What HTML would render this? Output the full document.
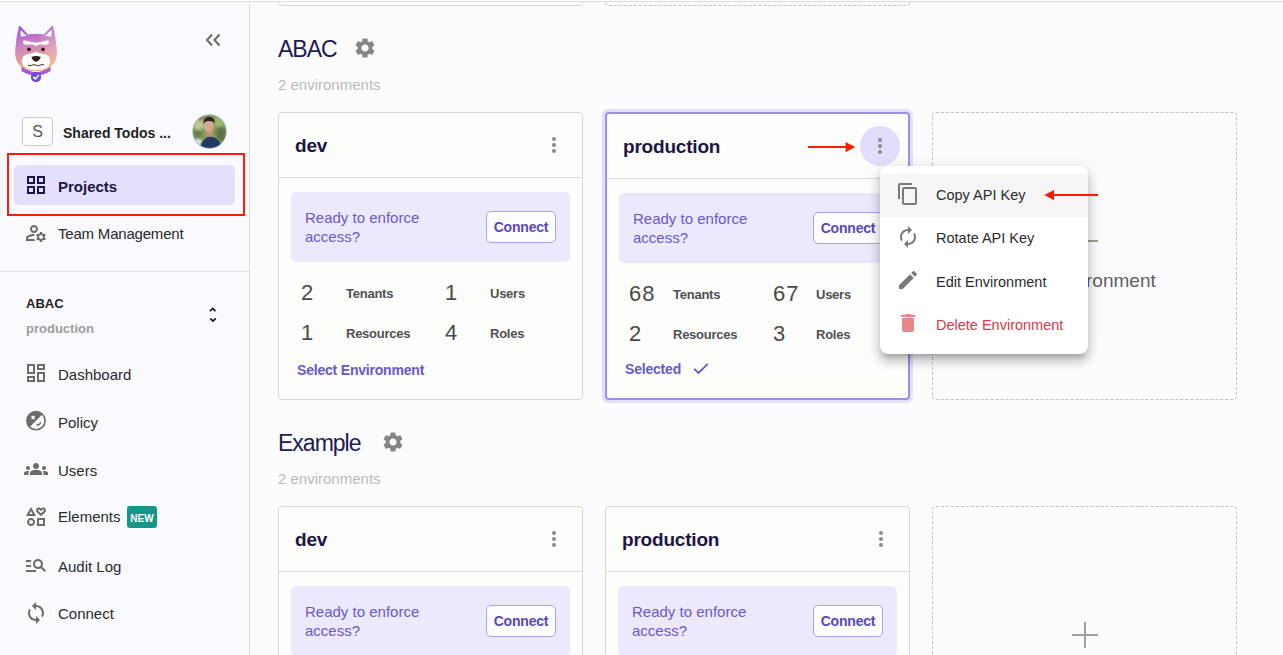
<!DOCTYPE html>
<html><head><meta charset="utf-8">
<style>
*{box-sizing:border-box;margin:0;padding:0}
html,body{width:1283px;height:655px;overflow:hidden}
body{position:relative;background:#fcfcfe;font-family:"Liberation Sans",sans-serif;color:#2b2b2b}
.a{position:absolute}
.t{position:absolute;white-space:nowrap;line-height:1}
#topline{left:0;top:1px;width:1283px;height:1px;background:#dcdcdd;z-index:5}
#top0{left:0;top:0;width:1283px;height:1px;background:#fff;z-index:5}
#side{left:0;top:2px;width:250px;height:653px;background:#f9f9fe;border-right:1px solid #dcdcda}
.sep{left:0;top:271px;width:249px;height:1px;background:#e0e0e0}
.nav{font-size:15px;color:#2b2b2b}
.ico{position:absolute}
/* cards */
.card{position:absolute;width:305px;height:288px;background:#fdfdfb;border:1px solid #d9d7d1;border-radius:4px}
.card.sel{border:2px solid #9c8fe9;box-shadow:0 0 0 3px #e4defa}
.card .hsep{position:absolute;left:0;right:0;top:64px;height:1px;background:#dcdad4}
.card .name{position:absolute;left:16px;top:23px;font-size:19px;font-weight:bold;color:#1d1545;line-height:1;white-space:nowrap;letter-spacing:-0.2px}
.card .dots{position:absolute;left:273px;top:24px;width:4px;height:16px}
.card .dots i{position:absolute;left:0;width:4px;height:4px;border-radius:50%;background:#8a8a87}
.banner{position:absolute;left:12px;top:79px;width:279px;height:70px;background:#ece8fd;border-radius:5px}
.banner .bt{position:absolute;left:14px;top:16px;font-size:15px;line-height:19px;color:#6a58cd;white-space:nowrap}
.btn{position:absolute;left:195px;top:19px;width:70px;height:32px;border:1px solid #aa9ff0;background:#fdfcff;border-radius:5px;font-size:14px;font-weight:bold;color:#5a48b8;text-align:center;line-height:30px;letter-spacing:-0.2px}
.sel .banner{width:278px}
.sel .btn{left:194px}
.num{position:absolute;font-size:22px;color:#4a4a4a;line-height:1;font-weight:normal;letter-spacing:1px}
.lbl{position:absolute;font-size:13px;letter-spacing:-0.25px;color:#505050;line-height:1;font-weight:bold;white-space:nowrap}
.selenv{position:absolute;left:18px;top:250px;font-size:14px;letter-spacing:-0.2px;font-weight:bold;color:#6a58cd;line-height:1;white-space:nowrap}
.dash{position:absolute;width:305px;height:288px;border:1px dashed #c4c2bc;border-radius:4px;background:transparent}
.plus{position:absolute;left:139px;top:115px;width:26px;height:26px}
.plus:before{content:"";position:absolute;left:0;top:12px;width:26px;height:2px;background:#a29f9a}
.plus:after{content:"";position:absolute;left:12px;top:0;width:2px;height:26px;background:#a29f9a}
.h2{position:absolute;left:278px;font-size:23px;letter-spacing:-1px;color:#221a52;line-height:1;white-space:nowrap}
.sub{position:absolute;left:278px;font-size:15px;color:#bababa;line-height:1;white-space:nowrap}
</style></head><body>
<div id="top0" class="a"></div><div id="topline" class="a"></div>
<div id="side" class="a"></div>
<div class="a sep"></div>

<!-- SIDEBAR -->
<svg class="a" style="left:12px;top:24px" width="48" height="60" viewBox="0 0 48 60">
  <defs>
    <linearGradient id="hg" x1="0.2" y1="0" x2="0.45" y2="1">
      <stop offset="0" stop-color="#a052dc"/>
      <stop offset="0.5" stop-color="#d48cbc"/>
      <stop offset="1" stop-color="#f7a96a"/>
    </linearGradient>
    <linearGradient id="hl" x1="0" y1="0" x2="1" y2="1">
      <stop offset="0" stop-color="#fff" stop-opacity="0"/>
      <stop offset="1" stop-color="#fff" stop-opacity="0.25"/>
    </linearGradient>
  </defs>
  <path d="M9.5 42 Q24 54 38.5 42 L38.5 47 Q24 56 9.5 47 Z" fill="#a458d9"/>
  <path d="M6.9 2.3 Q7.6 1.6 8.4 2.3 L16 10.5 Q24 9 32 10.5 L39.6 2.3 Q40.5 1.6 41 2.6 Q44 14 44.8 26 Q46 40 34 45.5 Q24 48.5 14 45.5 Q2 40 3.2 26 Q4 14 6.9 2.3 Z" fill="url(#hg)"/>
  <path d="M26 10.2 Q32 10.5 40 2.5 Q44 14 44.8 26 Q46 40 34 45.5 Q36 30 26 10.2 Z" fill="url(#hl)"/>
  <path d="M8.6 6 L14.6 12 L8.6 12.6 Z" fill="#fff"/>
  <path d="M39.6 5.6 L33 12 L39.4 12.6 Z" fill="#fff"/>
  <path d="M11 18 Q11 16.2 13 16.6 Q19 18 23 18.6 Q24 18.8 25 18.6 Q29 18 35 16.6 Q37 16.2 37 18 Q37 20.8 33.5 20.8 L28 20.6 Q25 20.8 24 22.4 Q23 20.8 20 20.6 L14.5 20.8 Q11 20.8 11 18 Z" fill="#fff"/>
  <circle cx="17" cy="25.3" r="1.9" fill="#2e201e"/>
  <circle cx="31" cy="25.3" r="1.9" fill="#2e201e"/>
  <path d="M9.8 38 Q9.8 31 16 30 Q21 29.5 24 27.8 Q27 29.5 32 30 Q38.2 31 38.2 38 Q37 46 24 46.2 Q11 46 9.8 38 Z" fill="#fff"/>
  <path d="M19.4 33 Q24 31.2 28.8 33 Q27.5 37 24 37.8 Q20.5 37 19.4 33 Z" fill="#2e201e"/>
  <path d="M16 40.8 Q18 42.5 20 41.2 Q22 40 24 41.2 Q26 42.5 28 41.2 Q30 40 32 40.8" stroke="#2e201e" stroke-width="0.9" fill="none"/>
  <circle cx="24" cy="53.1" r="5.1" fill="#7148d6"/>
  <path d="M21.6 53.2 L23.3 54.9 L26.5 51.6" stroke="#fff" stroke-width="1.5" fill="none" stroke-linecap="round"/>
</svg>
<svg class="a" style="left:204px;top:32px" width="18" height="16" viewBox="0 0 18 16">
  <path d="M8 2.5 L3 8 L8 13.5 M15.5 2.5 L10.5 8 L15.5 13.5" stroke="#6b6b68" stroke-width="2" fill="none"/>
</svg>

<div class="a" style="left:22px;top:117px;width:31px;height:29px;border:1px solid #cbc9c3;border-radius:4px;background:#fdfdfb;font-size:16px;color:#555;text-align:center;line-height:28px">S</div>
<div class="t" style="left:63px;top:126px;font-size:14px;font-weight:bold;color:#1f1f1f">Shared Todos ...</div>
<svg class="a" style="left:192px;top:114px" width="35" height="35" viewBox="0 0 35 35">
  <defs><clipPath id="cc"><circle cx="17.5" cy="17.5" r="16.8"/></clipPath>
  <filter id="bl"><feGaussianBlur stdDeviation="1.2"/></filter></defs>
  <g clip-path="url(#cc)">
    <rect width="35" height="35" fill="#7f9a5c"/>
    <g filter="url(#bl)">
      <ellipse cx="7" cy="9" rx="6" ry="7" fill="#b4c98a"/>
      <ellipse cx="27" cy="8" rx="6" ry="5" fill="#9bb56e"/>
      <ellipse cx="29" cy="20" rx="5" ry="7" fill="#5d7444"/>
      <ellipse cx="6" cy="20" rx="4" ry="4" fill="#6a7d50"/>
      <ellipse cx="9" cy="4" rx="4" ry="3" fill="#a38152"/>
      <ellipse cx="6" cy="28" rx="4" ry="3" fill="#d9e2dc"/>
    </g>
    <path d="M14 16 L20.5 16 L21 23 L14 23 Z" fill="#c08f75"/>
    <path d="M8.5 35 Q9 27 13 25 Q15.5 22 17.5 23 Q20 22 23 24 Q28.5 26 29.5 35 Z" fill="#223a63"/>
    <ellipse cx="16.8" cy="12.3" rx="5" ry="6" fill="#d5a88e"/>
    <path d="M11.2 11 Q11 3 17 2.8 Q23.5 3 22.8 10.5 Q22 7 19 7.2 Q15 6.5 12.5 8.5 Q11.8 9.5 11.2 11 Z" fill="#2f2424"/>
  </g>
  <circle cx="17.5" cy="17.5" r="16.8" fill="none" stroke="#8fb5c6" stroke-width="0.6"/>
</svg>

<div class="a" style="left:7px;top:153px;width:238px;height:63px;border:2px solid #f81f06"></div>
<div class="a" style="left:14px;top:165px;width:221px;height:40px;background:#e4dffa;border-radius:5px"></div>
<svg class="a" style="left:24px;top:173px" width="24" height="24" viewBox="0 0 24 24"><path fill="#1d1545" d="M3 3v8h8V3H3zm6 6H5V5h4v4zm-6 4v8h8v-8H3zm6 6H5v-4h4v4zm4-16v8h8V3h-8zm6 6h-4V5h4v4zm-6 4v8h8v-8h-8zm6 6h-4v-4h4v4z"/></svg>
<div class="t" style="left:58px;top:179px;font-size:15px;font-weight:bold;color:#1d1545">Projects</div>

<svg class="a" style="left:24px;top:221px" width="24" height="24" viewBox="0 0 24 24"><path fill="#6b6b68" d="M4 18v-.65c0-.34.16-.66.41-.81C6.1 15.53 8.03 15 10 15c.03 0 .05 0 .08.01.1-.7.3-1.37.59-1.98-.22-.02-.44-.03-.67-.03-2.42 0-4.68.67-6.61 1.82-.88.52-1.39 1.5-1.39 2.53V20h9.26c-.42-.6-.75-1.28-.97-2H4zM10 12c2.21 0 4-1.79 4-4s-1.79-4-4-4-4 1.79-4 4 1.79 4 4 4zm0-6c1.1 0 2 .9 2 2s-.9 2-2 2-2-.9-2-2 .9-2 2-2zM20.75 16c0-.22-.03-.42-.06-.63l1.14-1.01-1-1.73-1.45.49c-.32-.27-.68-.48-1.08-.63L18 11h-2l-.3 1.49c-.4.15-.76.36-1.08.63l-1.45-.49-1 1.730 1.14 1.01c-.03.21-.06.41-.06.63s.03.42.06.63l-1.14 1.01 1 1.73 1.45-.49c.32.27.68.48 1.08.63L16 21h2l.3-1.49c.4-.15.76-.36 1.08-.63l1.45.49 1-1.73-1.14-1.01c.03-.21.06-.41.06-.63zM17 18c-1.1 0-2-.9-2-2s.9-2 2-2 2 .9 2 2-.9 2-2 2z"/></svg>
<div class="t nav" style="left:58px;top:226px;letter-spacing:-0.2px">Team Management</div>

<div class="t" style="left:26px;top:297px;font-size:13px;letter-spacing:0px;font-weight:bold;color:#1f1f1f">ABAC</div>
<div class="t" style="left:26px;top:322px;font-size:13px;font-weight:bold;color:#9d9d9d">production</div>
<svg class="a" style="left:206px;top:305px" width="14" height="20" viewBox="0 0 14 20">
  <path d="M3.9 6.1 L6.7 3.4 L9.5 6.1 M4.2 13.4 L7 16.1 L9.8 13.4" stroke="#1d1545" stroke-width="1.8" fill="none"/>
</svg>

<svg class="a" style="left:24px;top:361px" width="24" height="24" viewBox="0 0 24 24"><path fill="#6b6b68" d="M19 5v2h-4V5h4M9 5v6H5V5h4m10 8v6h-4v-6h4M9 17v2H5v-2h4M21 3h-8v6h8V3zM11 3H3v10h8V3zm10 8h-8v10h8V11zm-10 4H3v6h8v-6z"/></svg>
<div class="t nav" style="left:58px;top:367px">Dashboard</div>

<svg class="a" style="left:24px;top:409px" width="24" height="24" viewBox="0 0 24 24">
  <defs><clipPath id="pc"><circle cx="12" cy="11.7" r="9"/></clipPath></defs>
  <path d="M3 2.7 L21 2.7 L3 20.7 Z" fill="#6b6b68" clip-path="url(#pc)"/>
  <circle cx="12" cy="11.7" r="9.1" fill="none" stroke="#6b6b68" stroke-width="1.6"/>
  <path d="M7.6 7 L10.6 10 M10.6 7 L7.6 10" stroke="#fff" stroke-width="1.5"/>
  <path d="M12.6 15 L14.2 16.4 L17 13.4" stroke="#6b6b68" stroke-width="1.4" fill="none"/>
</svg>
<div class="t nav" style="left:58px;top:415px">Policy</div>

<svg class="a" style="left:24px;top:457px" width="24" height="24" viewBox="0 0 24 24"><path fill="#6b6b68" d="M12 12.75c1.63 0 3.07.39 4.24.9 1.08.48 1.76 1.560 1.76 2.73V18H6v-1.61c0-1.18.68-2.26 1.76-2.73 1.17-.52 2.61-.91 4.240-.91zM4 13c1.1 0 2-.9 2-2s-.9-2-2-2-2 .9-2 2 .9 2 2 2zm1.13 1.1c-.37-.06-.74-.1-1.13-.1-.99 0-1.93.21-2.78.58C.48 14.9 0 15.62 0 16.43V18h4.5v-1.61c0-.83.23-1.61.63-2.29zM20 13c1.1 0 2-.9 2-2s-.9-2-2-2-2 .9-2 2 .9 2 2 2zm4 3.43c0-.81-.48-1.53-1.22-1.85-.85-.37-1.79-.58-2.78-.58-.39 0-.76.04-1.13.1.4.68.63 1.46.63 2.29V18H24v-1.57zM12 6c1.66 0 3 1.34 3 3s-1.34 3-3 3-3-1.34-3-3 1.34-3 3-3z"/></svg>
<div class="t nav" style="left:58px;top:463px">Users</div>

<svg class="a" style="left:24px;top:505px" width="24" height="24" viewBox="0 0 24 24"><path fill="#6b6b68" d="M7.02 13c-2.21 0-4 1.79-4 4s1.79 4 4 4 4-1.79 4-4-1.79-4-4-4zm0 6c-1.1 0-2-.9-2-2s.9-2 2-2 2 .9 2 2-.9 2-2 2zM13 13v8h8v-8h-8zm6 6h-4v-4h4v4zM7 2l-5 9h10L7 2zm0 4.12L8.6 9H5.4L7 6.12zM19.25 2.5c-1.06 0-1.810.56-2.25 1.17-.44-.61-1.19-1.17-2.25-1.17C13.19 2.5 12 3.780 12 5.25c0 2 2.42 3.42 5 5.75 2.58-2.33 5-3.75 5-5.750 0-1.47-1.19-2.75-2.75-2.75zM17 8.35c-1.45-1.22-3-2.4-3-3.1 0-.43.35-.75.75-.75.31 0 .52.17.73.37L17 6.27l1.52-1.4c.21-.2.42-.37.73-.37.4 0 .75.32.75.75 0 .7-1.55 1.88-3 3.1z"/></svg>
<div class="t nav" style="left:58px;top:509px">Elements</div>
<div class="a" style="left:127px;top:506px;width:30px;height:22px;background:#14968a;border-radius:3px;color:#fff;font-size:10px;font-weight:bold;text-align:center;line-height:26px">NEW</div>

<svg class="a" style="left:24px;top:553px" width="24" height="24" viewBox="0 0 24 24"><path fill="#6b6b68" d="M7 9H2V7h5v2zm0 3H2v2h5v-2zm13.59 7l-3.83-3.83c-.8.52-1.74.83-2.76.83-2.76 0-5-2.24-5-5s2.24-5 5-5 5 2.24 5 5c0 1.02-.31 1.960-.83 2.75L22 17.59 20.59 19zM17 11c0-1.65-1.35-3-3-3s-3 1.35-3 3 1.35 3 3 3 3-1.35 3-3zM2 19h10v-2H2v2z"/></svg>
<div class="t nav" style="left:58px;top:559px">Audit Log</div>

<svg class="a" style="left:24px;top:601px" width="24" height="24" viewBox="0 0 24 24"><path fill="#6b6b68" d="M12 4V1L8 5l4 4V6c3.31 0 6 2.69 6 6 0 1.01-.25 1.97-.7 2.8l1.46 1.46C19.54 15.03 20 13.57 20 12c0-4.42-3.58-8-8-8zm0 14c-3.31 0-6-2.69-6-6 0-1.01.25-1.97.7-2.8L5.24 7.74C4.46 8.97 4 10.43 4 12c0 4.420 3.58 8 8 8v3l4-4-4-4v3z"/></svg>
<div class="t nav" style="left:58px;top:606px">Connect</div>

<!-- MAIN -->
<!-- previous section bottoms -->
<div class="card" style="left:278px;top:-282px"></div>
<div class="dash" style="left:605px;top:-282px"></div>

<!-- ABAC section -->
<div class="h2" style="top:38px">ABAC</div>
<svg class="a" style="left:353px;top:36px" width="24" height="24" viewBox="0 0 24 24"><path fill="#858683" d="M19.14 12.94c.04-.3.06-.61.06-.94 0-.32-.02-.64-.07-.94l2.03-1.58c.18-.14.23-.41.12-.61l-1.92-3.32c-.12-.22-.37-.29-.59-.22l-2.39.96c-.5-.38-1.03-.7-1.62-.94l-.36-2.54c-.04-.24-.24-.41-.48-.41h-3.84c-.24 0-.43.17-.47.41l-.36 2.54c-.59.24-1.13.57-1.62.94l-2.39-.96c-.22-.08-.47 0-.59.22L2.74 8.87c-.12.21-.08.47.12.61l2.03 1.58c-.05.3-.09.63-.09.94s.02.64.07.94l-2.03 1.58c-.18.14-.23.41-.12.61l1.92 3.32c.12.22.37.29.59.22l2.39-.96c.5.38 1.03.7 1.62.94l.36 2.54c.05.24.24.41.48.41h3.84c.24 0 .44-.17.47-.41l.36-2.54c.59-.24 1.13-.56 1.62-.94l2.39.96c.22.08.47 0 .59-.22l1.92-3.32c.12-.22.07-.47-.12-.61l-2.01-1.58zM12 15.6c-1.98 0-3.6-1.62-3.6-3.6s1.62-3.6 3.6-3.6 3.6 1.62 3.6 3.6-1.62 3.6-3.6 3.6z"/></svg>
<div class="sub" style="top:77px">2 environments</div>

<div class="card" style="left:278px;top:112px">
  <div class="name">dev</div>
  <div class="dots"><i style="top:0"></i><i style="top:6px"></i><i style="top:12px"></i></div>
  <div class="hsep"></div>
  <div class="banner"><div class="bt">Ready to enforce<br>access?</div><div class="btn">Connect</div></div>
  <div class="num" style="left:22px;top:169px">2</div><div class="lbl" style="left:67px;top:174px">Tenants</div>
  <div class="num" style="left:166px;top:169px">1</div><div class="lbl" style="left:211px;top:174px">Users</div>
  <div class="num" style="left:22px;top:209px">1</div><div class="lbl" style="left:67px;top:214px">Resources</div>
  <div class="num" style="left:166px;top:209px">4</div><div class="lbl" style="left:211px;top:214px">Roles</div>
  <div class="selenv">Select Environment</div>
</div>

<div class="card sel" style="left:605px;top:112px">
  <div class="name">production</div>
  <div class="a" style="left:253px;top:12px;width:40px;height:40px;border-radius:50%;background:#e3ddfa"></div>
  <div class="dots" style="left:271px"><i style="top:0"></i><i style="top:6px"></i><i style="top:12px"></i></div>
  <div class="hsep"></div>
  <div class="banner"><div class="bt">Ready to enforce<br>access?</div><div class="btn">Connect</div></div>
  <div class="num" style="left:22px;top:169px">68</div><div class="lbl" style="left:66px;top:174px">Tenants</div>
  <div class="num" style="left:166px;top:169px">67</div><div class="lbl" style="left:209px;top:174px">Users</div>
  <div class="num" style="left:22px;top:209px">2</div><div class="lbl" style="left:66px;top:214px">Resources</div>
  <div class="num" style="left:166px;top:209px">3</div><div class="lbl" style="left:209px;top:214px">Roles</div>
  <div class="selenv" style="top:248px">Selected</div>
  <svg class="a" style="left:85px;top:248px" width="18" height="14" viewBox="0 0 18 14"><path d="M2.2 6.8 L6.5 11 L15.8 1.8" stroke="#6a58cd" stroke-width="1.8" fill="none"/></svg>
</div>

<div class="dash" style="left:932px;top:112px"><div class="plus"></div></div>


<!-- add env text (under menu) -->
<div class="t" style="left:1010px;top:271px;font-size:19px;color:#5f5f5f">Add Environment</div>

<!-- arrows -->
<div class="a" style="left:808px;top:146px;width:40px;height:2px;background:#fc1c02"></div>
<svg class="a" style="left:845px;top:142px" width="12" height="12" viewBox="0 0 12 12"><path d="M0.5 0 L10.2 5 L0.5 10.2 Z" fill="#fc1c02"/></svg>

<!-- menu -->
<div class="a" style="left:880px;top:166px;width:208px;height:188px;background:#fff;border-radius:8px;box-shadow:0 5px 5px -3px rgba(0,0,0,0.2),0 8px 10px 1px rgba(0,0,0,0.14),0 3px 14px 2px rgba(0,0,0,0.12)">
  <div class="a" style="left:0;top:8px;width:208px;height:43px;background:#f5f5f5"></div>
  <svg class="a" style="left:16px;top:16px" width="24" height="24" viewBox="0 0 24 24"><path fill="#7a7a7a" d="M16 1H4c-1.1 0-2 .9-2 2v14h2V3h12V1zm3 4H8c-1.1 0-2 .9-2 2v14c0 1.1.9 2 2 2h11c1.1 0 2-.9 2-2V7c0-1.1-.9-2-2-2zm0 16H8V7h11v14z"/></svg>
  <div class="t" style="left:56px;top:22px;font-size:14.5px;color:#2b2b2b">Copy API Key</div>
  <svg class="a" style="left:16px;top:59px" width="24" height="24" viewBox="0 0 24 24"><path fill="#7a7a7a" d="M12 6v3l4-4-4-4v3c-4.42 0-8 3.58-8 8 0 1.57.46 3.03 1.24 4.26L6.7 14.8c-.45-.83-.7-1.79-.7-2.8 0-3.31 2.69-6 6-6zm6.76 1.74L17.3 9.2c.44.84.7 1.79.7 2.8 0 3.31-2.69 6-6 6v-3l-4 4 4 4v-3c4.42 0 8-3.58 8-8 0-1.57-.46-3.030-1.24-4.26z"/></svg>
  <div class="t" style="left:56px;top:65px;font-size:14.5px;color:#2b2b2b">Rotate API Key</div>
  <svg class="a" style="left:16px;top:102px" width="24" height="24" viewBox="0 0 24 24"><path fill="#7a7a7a" d="M3 17.25V21h3.75L17.81 9.94l-3.75-3.75L3 17.25zM20.71 7.04c.39-.39.39-1.02 0-1.41l-2.34-2.34c-.39-.39-1.02-.39-1.41 0l-1.83 1.83 3.75 3.75 1.83-1.83z"/></svg>
  <div class="t" style="left:56px;top:109px;font-size:14.5px;color:#2b2b2b">Edit Environment</div>
  <svg class="a" style="left:16px;top:145px" width="24" height="24" viewBox="0 0 24 24"><path fill="#e8868b" d="M6 19c0 1.1.9 2 2 2h8c1.1 0 2-.9 2-2V7H6v12zM19 4h-3.5l-1-1h-5l-1 1H5v2h14V4z"/></svg>
  <div class="t" style="left:56px;top:152px;font-size:14.5px;color:#d93a48">Delete Environment</div>
</div>
<div class="a" style="left:1054px;top:194px;width:44px;height:2px;background:#fc1c02"></div>
<svg class="a" style="left:1044px;top:190px" width="12" height="12" viewBox="0 0 12 12"><path d="M10 0 L0.3 5 L10 10.2 Z" fill="#fc1c02"/></svg>

<!-- Example section -->
<div class="h2" style="top:432px">Example</div>
<svg class="a" style="left:381px;top:430px" width="24" height="24" viewBox="0 0 24 24"><path fill="#858683" d="M19.14 12.94c.04-.3.06-.61.06-.94 0-.32-.02-.64-.07-.94l2.03-1.58c.18-.14.23-.41.12-.61l-1.92-3.32c-.12-.22-.37-.29-.59-.22l-2.39.96c-.5-.38-1.03-.7-1.62-.94l-.36-2.54c-.04-.24-.24-.41-.48-.41h-3.84c-.24 0-.43.17-.47.41l-.36 2.54c-.59.24-1.13.57-1.62.94l-2.39-.96c-.22-.08-.47 0-.59.22L2.74 8.87c-.12.21-.08.47.12.61l2.03 1.58c-.05.3-.09.63-.09.94s.02.64.07.94l-2.03 1.58c-.18.14-.23.41-.12.61l1.92 3.32c.12.22.37.29.59.22l2.39-.96c.5.38 1.03.7 1.62.94l.36 2.54c.05.24.24.41.48.41h3.84c.24 0 .44-.17.47-.41l.36-2.54c.59-.24 1.13-.56 1.62-.94l2.39.96c.22.08.47 0 .59-.22l1.92-3.32c.12-.22.07-.47-.12-.61l-2.01-1.58zM12 15.6c-1.98 0-3.6-1.62-3.6-3.6s1.62-3.6 3.6-3.6 3.6 1.62 3.6 3.6-1.62 3.6-3.6 3.6z"/></svg>
<div class="sub" style="top:471px">2 environments</div>

<div class="card" style="left:278px;top:506px">
  <div class="name">dev</div>
  <div class="dots"><i style="top:0"></i><i style="top:6px"></i><i style="top:12px"></i></div>
  <div class="hsep"></div>
  <div class="banner"><div class="bt">Ready to enforce<br>access?</div><div class="btn">Connect</div></div>
</div>
<div class="card" style="left:605px;top:506px">
  <div class="name">production</div>
  <div class="dots"><i style="top:0"></i><i style="top:6px"></i><i style="top:12px"></i></div>
  <div class="hsep"></div>
  <div class="banner"><div class="bt">Ready to enforce<br>access?</div><div class="btn">Connect</div></div>
</div>
<div class="dash" style="left:932px;top:506px"><div class="plus"></div></div>

</body></html>
